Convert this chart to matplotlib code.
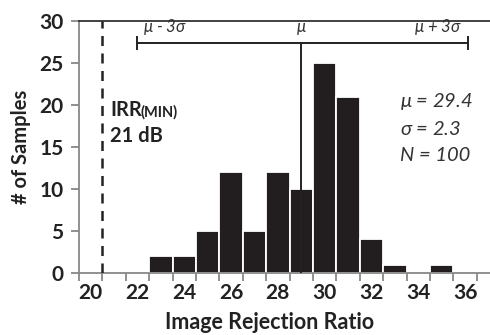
import numpy as np
import matplotlib.pyplot as plt

# Data
ratio = [23, 24, 25, 26, 27, 28, 29, 30, 31, 32, 33, 34, 35]
counts = [2, 2, 5, 12, 5, 12, 10, 25, 21, 4, 1, 0, 1]
x_ticks = [20, 22, 24, 26, 28, 30, 32, 34, 36]
y_ticks = [0, 5, 10, 15, 20, 25, 30]
irr_min = 20.5
mean_pos = 29.0
bracket = (22.0, 36.1)
bracket_y = 27.4
stats = ['$\\mu$ = 29.4', '$\\sigma$ = 2.3', 'N = 100']

plt.rcParams['font.family'] = ['Lato', 'DejaVu Sans']
plt.rcParams['mathtext.fontset'] = 'custom'
plt.rcParams['mathtext.it'] = 'Lato:italic'
plt.rcParams['mathtext.rm'] = 'Lato'

fig = plt.figure(figsize=(4.9, 3.35), dpi=100)
ax = fig.add_axes([0.161, 0.185, 0.839, 0.752])

ax.bar(ratio, counts, width=1.0, color='#221e1f', edgecolor='white', linewidth=1.3, zorder=2)

ax.set_xlim(19.5, 37.06)
ax.set_ylim(0, 30)

# minimum IRR line
ax.axvline(irr_min, color='#222222', lw=1.8, ls=(0, (4, 3)), zorder=3)
ax.text(irr_min + 0.35, 19.4, 'IRR', fontsize=14.5, fontweight='bold', va='center', ha='left', color='#222222')
ax.text(irr_min + 1.65, 19.1, '(MIN)', fontsize=10.5, fontweight='bold', va='center', ha='left', color='#222222')
ax.text(irr_min + 0.35, 16.3, '21 dB', fontsize=14.5, fontweight='bold', va='center', ha='left', color='#222222')

# mean and +/- 3 sigma bracket
ax.plot([mean_pos, mean_pos], [0, bracket_y], color='#222222', lw=1.4, zorder=3)
ax.plot(list(bracket), [bracket_y, bracket_y], color='#222222', lw=1.4)
for bx in bracket:
    ax.plot([bx, bx], [bracket_y - 0.75, bracket_y + 0.7], color='#222222', lw=1.4)
ax.text(bracket[0] + 0.25, bracket_y + 0.7, '$\\mu$ - 3$\\sigma$', fontsize=12, style='italic',
        ha='left', va='bottom', color='#333333')
ax.text(mean_pos, bracket_y + 0.7, '$\\mu$', fontsize=12, style='italic', ha='center', va='bottom', color='#333333')
ax.text(bracket[1] - 0.25, bracket_y + 0.7, '$\\mu$ + 3$\\sigma$', fontsize=12, style='italic',
        ha='right', va='bottom', color='#333333')

for i, s in enumerate(stats):
    ax.text(33.2, 20.4 - i * 3.2, s, fontsize=14.5, style='italic', ha='left', va='center', color='#333333')

# axes styling
ax.spines['right'].set_visible(False)
ax.spines['top'].set_color('#333333')
ax.spines['top'].set_linewidth(1.3)
ax.spines['left'].set_color('#888888')
ax.spines['bottom'].set_color('#888888')
ax.spines['left'].set_linewidth(1.3)
ax.spines['bottom'].set_linewidth(1.3)

ax.set_yticks(y_ticks)
ax.set_xticks(np.arange(19.5, 37.0, 1.0))
ax.set_xticklabels([])
ax.set_xticks(x_ticks, minor=True)
ax.set_xticklabels([str(t) for t in x_ticks], minor=True, fontsize=15, fontweight='bold', color='#222222')
ax.tick_params(axis='x', which='minor', length=0, pad=7)
ax.tick_params(axis='x', which='major', length=6, width=1.3, color='#888888')
ax.tick_params(axis='y', length=6, width=1.3, color='#888888', pad=5)
for lab in ax.get_yticklabels():
    lab.set_fontsize(15)
    lab.set_fontweight('bold')
    lab.set_color('#222222')

ax.set_xlabel('Image Rejection Ratio', fontsize=15.5, fontweight='bold', color='#222222')
ax.set_ylabel('# of Samples', fontsize=14.5, fontweight='bold', color='#222222', labelpad=6)
ax.xaxis.set_label_coords(0.465, -0.155)

fig.savefig('out.png', dpi=100)
